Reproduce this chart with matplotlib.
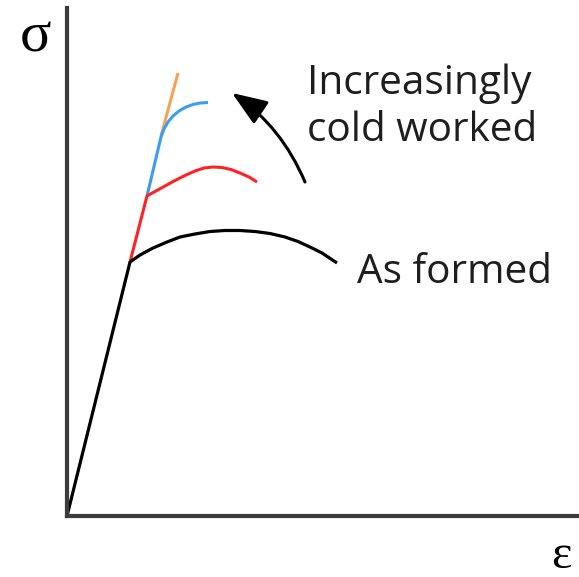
import matplotlib
matplotlib.use("Agg")
from matplotlib import pyplot as plt

# schematic stress-strain curves (arbitrary units)
strain_formed = [0, 63, 73, 86, 100, 113, 128, 143, 158, 173, 188, 203, 218, 231, 243, 255, 264, 270]
stress_formed = [0, 254, 261, 268, 274, 279, 282, 284.5, 285.5, 285.5, 284.5, 282.5, 279, 274.5, 269, 263, 257, 253]

strain_cw1 = [63, 80, 88, 98, 108, 118, 128, 137, 146, 155, 164, 173, 182, 190]
stress_cw1 = [254, 320, 324.5, 330, 335.5, 340.5, 345, 348, 349, 348.5, 346.5, 343, 339, 334]

strain_cw2 = [80, 94, 97, 101, 106, 112, 119, 126, 133, 141]
stress_cw2 = [320, 379, 387, 394, 400, 405, 409, 411.5, 413, 413.5]

strain_cw3 = [94, 111]
stress_cw3 = [380, 443]

fig = plt.figure(figsize=(5.79, 5.77), dpi=100)
ax = fig.add_axes([0, 0, 1, 1])
ax.set_xlim(-67, 512)
ax.set_ylim(-61, 516)

ax.plot(strain_cw3, stress_cw3, color="#f5a452", lw=2.2, solid_capstyle="butt")
ax.plot(strain_cw2, stress_cw2, color="#3b9cf2", lw=2.2, solid_capstyle="butt")
ax.plot(strain_cw1, stress_cw1, color="#ff2222", lw=2.2, solid_capstyle="butt")
ax.plot(strain_formed, stress_formed, color="black", lw=2.3, solid_capstyle="butt")

# axes drawn as two gray lines meeting at the origin
for side in ["top", "right"]:
    ax.spines[side].set_visible(False)
ax.spines["left"].set_position(("data", 0))
ax.spines["bottom"].set_position(("data", 0))
ax.spines["left"].set_bounds(0, 508)
ax.spines["bottom"].set_bounds(0, 512)
for side in ["left", "bottom"]:
    ax.spines[side].set_color("#3c3c3c")
    ax.spines[side].set_linewidth(3)
ax.set_xticks([])
ax.set_yticks([])
ax.patch.set_visible(False)

ax.text(-31, 479, "σ", fontsize=42, family="Liberation Serif", ha="center", va="center")
ax.text(494, -40, "ε", fontsize=35, family="Liberation Serif", ha="center", va="center")

txt = dict(fontsize=29.2, family="Open Sans", color="#1e1e1e", va="baseline", ha="left")
ax.text(240, 422, "Increasingly", **txt)
ax.text(240, 375, "cold worked", **txt)
ax.text(290, 233, "As formed", **txt)

ax.annotate("", xy=(165, 423), xytext=(238, 334),
            arrowprops=dict(arrowstyle="-|>,head_length=0.6,head_width=0.23",
                            connectionstyle="angle3,angleA=113,angleB=146", color="black",
                            lw=2.2, mutation_scale=36, shrinkA=0, shrinkB=0))

plt.savefig("out.png", dpi=100)
